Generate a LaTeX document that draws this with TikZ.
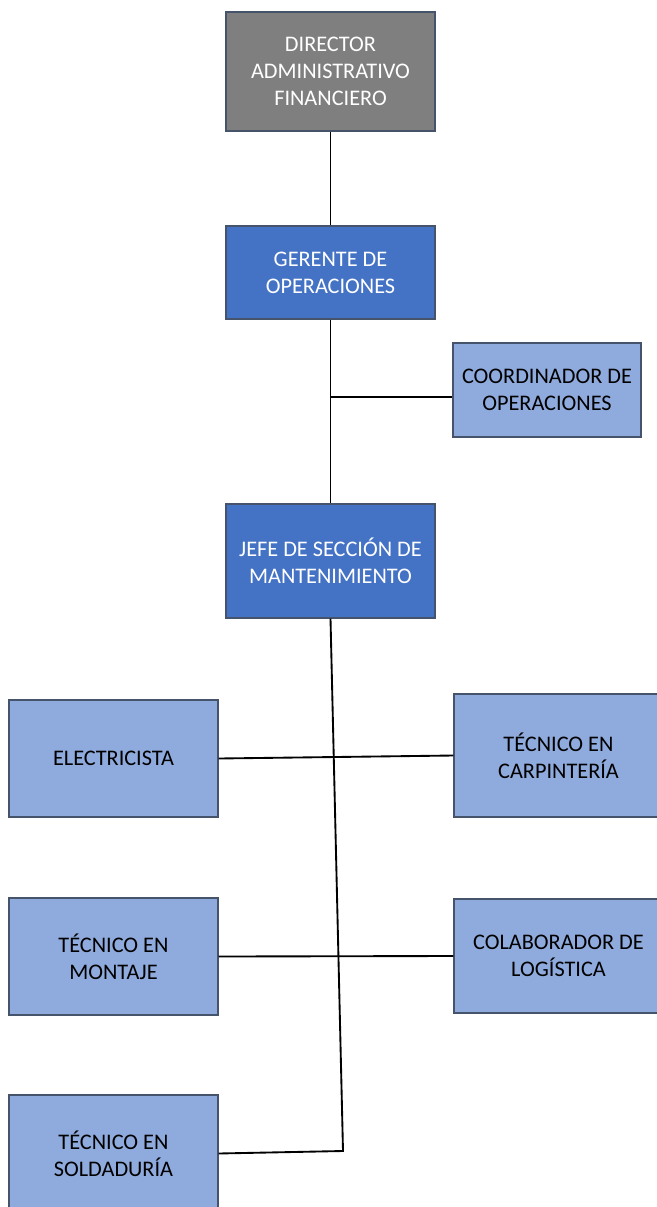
\documentclass[tikz,border=0pt]{standalone}
\usepackage{fontspec}
\setmainfont{Carlito}
\definecolor{graybox}{HTML}{7F7F7F}
\definecolor{bluebox}{HTML}{4472C4}
\definecolor{lightbox}{HTML}{8FAADC}
\definecolor{bordc}{HTML}{45536B}
\tikzset{
  box/.style n args={2}{draw=bordc, line width=0.8pt, minimum width=#1*0.75pt, minimum height=#2*0.75pt, inner sep=0pt, align=center, font=\fontsize{16.7}{20.25}\selectfont},
  dark/.style={fill=bluebox, text=white},
  grey/.style={fill=graybox, text=white},
  light/.style={fill=lightbox, text=black},
  link/.style={draw=black, line width=1.4pt}
}
\begin{document}
\begin{tikzpicture}[x=0.75pt,y=-0.75pt]
\useasboundingbox (0,0) rectangle (657,1207);
\clip (0,0) rectangle (657,1207);
\fill[white] (0,0) rectangle (657,1207);
\node[box={209}{119}, grey] (dir) at (330.5,71.5) {DIRECTOR\\ADMINISTRATIVO\\FINANCIERO};
\node[box={209}{93}, dark] (ger) at (330.5,272.5) {GERENTE DE\\OPERACIONES};
\node[box={188}{94}, light] (coord) at (547,390) {COORDINADOR DE\\OPERACIONES};
\node[box={209}{114}, dark] (jefe) at (330.5,561) {JEFE DE SECCIÓN DE\\MANTENIMIENTO};
\node[box={209}{117}, light] (elec) at (113.5,758.5) {ELECTRICISTA};
\node[box={209}{123}, light] (carp) at (558.5,755.5) {TÉCNICO EN\\CARPINTERÍA};
\node[box={209}{117}, light] (mont) at (113.5,956.5) {TÉCNICO EN\\MONTAJE};
\node[box={209}{114}, light] (colab) at (558.5,956) {COLABORADOR DE\\LOGÍSTICA};
\node[box={209}{117}, light] (sol) at (113.5,1153.5) {TÉCNICO EN\\SOLDADURÍA};
\coordinate (cb) at (330.5,397);
\coordinate (bend) at (343,1151);
\draw[link] (dir.south) -- (ger.north);
\draw[link] (ger.south) -- (jefe.north);
\draw[link] (cb) -- (cb -| coord.west);
\draw[link] (jefe.south) -- (bend) -- (sol.east);
\draw[link] (elec.east) -- (carp.west);
\draw[link] (mont.east) -- (colab.west);
\end{tikzpicture}
\end{document}
